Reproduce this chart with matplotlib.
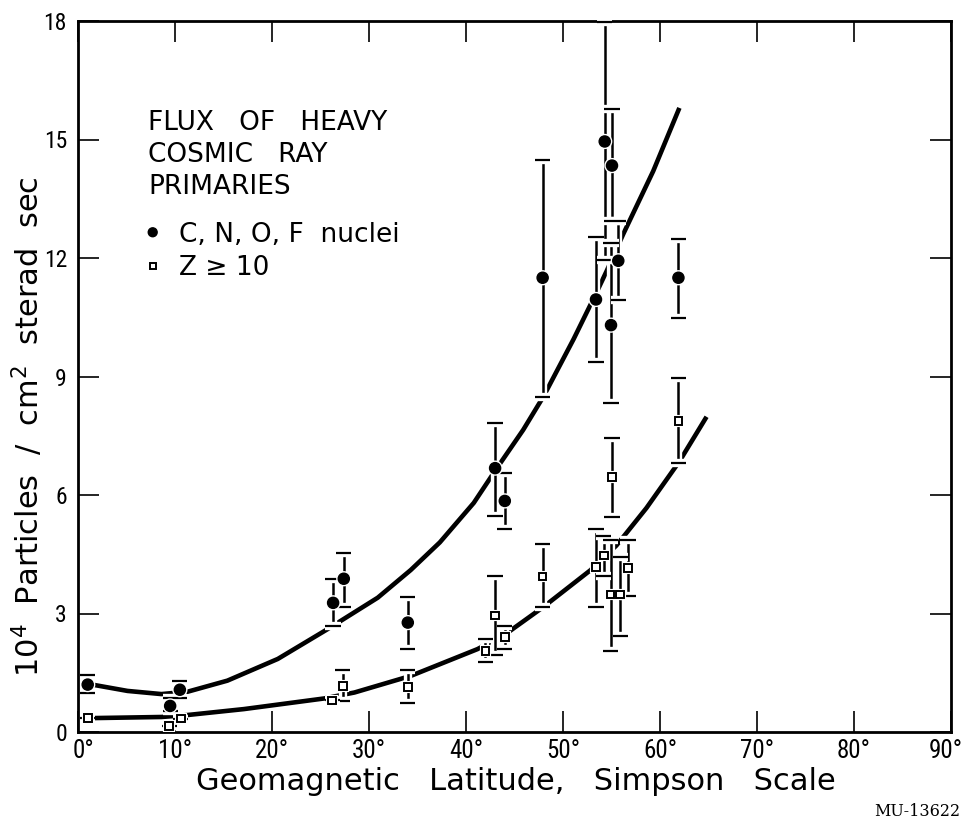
import matplotlib
matplotlib.use("Agg")
import matplotlib.pyplot as plt
import matplotlib.patheffects as pe
import matplotlib.transforms as mtransforms
import numpy as np

# C, N, O, F nuclei (filled circles)
lat_cno = [1.0, 9.5, 10.5, 26.3, 27.4, 34.0, 43.0, 44.0, 47.9, 53.4, 54.3, 54.95, 55.05, 55.7, 61.9]
flux_cno = [1.2, 0.66, 1.07, 3.27, 3.88, 2.77, 6.68, 5.85, 11.5, 10.95, 14.95, 10.3, 14.34, 11.93, 11.5]
hi_cno = [1.45, 0.86, 1.29, 3.88, 4.54, 3.43, 7.83, 6.56, 14.47, 12.54, 17.97, 12.38, 15.76, 12.93, 12.49]
lo_cno = [0.99, 0.52, 0.86, 2.69, 3.17, 2.11, 5.46, 5.15, 8.48, 9.37, 11.95, 8.32, 12.93, 10.94, 10.48]

# Z >= 10 (open squares)
lat_z10 = [1.0, 9.4, 10.6, 26.2, 27.3, 34.0, 42.0, 43.0, 44.0, 47.9, 53.4, 54.2, 54.9, 55.05, 55.9, 56.7, 61.9]
flux_z10 = [0.36, 0.15, 0.34, 0.8, 1.17, 1.14, 2.05, 2.95, 2.41, 3.94, 4.17, 4.47, 3.48, 6.45, 3.48, 4.15, 7.87]
hi_z10 = [0.36, 0.15, 0.34, 0.8, 1.57, 1.57, 2.35, 3.96, 2.69, 4.77, 5.15, 4.95, 4.85, 7.44, 4.44, 4.85, 8.96]
lo_z10 = [0.36, 0.15, 0.34, 0.8, 0.79, 0.74, 1.76, 1.95, 2.11, 3.16, 3.16, 3.96, 2.06, 5.44, 2.44, 3.45, 6.80]

# hand-drawn fit curves
fit_cno_lat = [1.0, 5.1, 8.6, 11.3, 15.4, 20.6, 25.7, 30.9, 34.3, 37.3, 40.8, 43.1, 45.9, 48.0,
               51.1, 53.5, 54.5, 56.2, 59.3, 62.0]
fit_cno_flux = [1.22, 1.04, 0.96, 1.02, 1.3, 1.85, 2.6, 3.4, 4.1, 4.8, 5.8, 6.65, 7.65, 8.5,
                9.95, 11.15, 11.67, 12.6, 14.2, 15.8]
fit_z10_lat = [1.0, 8.6, 11.3, 17.1, 25.4, 28.5, 34.3, 41.2, 44.2, 48.0, 52.8, 55.5, 58.6, 62.0, 64.8]
fit_z10_flux = [0.35, 0.38, 0.43, 0.58, 0.85, 1.0, 1.42, 2.1, 2.5, 3.17, 4.09, 4.72, 5.67, 6.85, 7.98]

x_ticks = [0, 10, 20, 30, 40, 50, 60, 70, 80, 90]
y_ticks = [0, 3, 6, 9, 12, 15, 18]

narrow = ["Roboto Condensed", "Liberation Sans Narrow", "DejaVu Sans"]
halo = [pe.Stroke(linewidth=6, foreground="white"), pe.Normal()]

fig = plt.figure(figsize=(9.66, 8.26), dpi=100)
ax = fig.add_axes([78 / 966, 1 - 732 / 826, 873 / 966, 711 / 826])

ax.plot(fit_cno_lat, fit_cno_flux, color="black", lw=3.3, solid_capstyle="butt", zorder=1)
ax.plot(fit_z10_lat, fit_z10_flux, color="black", lw=3.3, solid_capstyle="butt", zorder=1)

def bars(lat, flux, lo, hi):
    flux = np.array(flux)
    err = [flux - np.array(lo), np.array(hi) - flux]
    eb = ax.errorbar(lat, flux, yerr=err, fmt="none", ecolor="black",
                     elinewidth=1.8, capsize=5.5, capthick=1.6, zorder=3)
    for art in list(eb[1]) + list(eb[2]):
        art.set_path_effects(halo)
        art.set_clip_on(False)

bars(lat_cno, flux_cno, lo_cno, hi_cno)
bars(lat_z10, flux_z10, lo_z10, hi_z10)

h1, = ax.plot(lat_cno, flux_cno, ls="none", marker="o", ms=8, color="black",
              label="C, N, O, F  nuclei", zorder=4)
h2, = ax.plot(lat_z10, flux_z10, ls="none", marker="s", ms=5.5, mfc="white",
              mec="black", mew=1.4, label="Z ≥ 10", zorder=4)
h1.set_path_effects([pe.Stroke(linewidth=3, foreground="white"), pe.Normal()])
h2.set_path_effects([pe.Stroke(linewidth=3, foreground="white"), pe.Normal()])

ax.set_xlim(0, 90)
ax.set_ylim(0, 18)
ax.set_xticks(x_ticks)
ax.set_xticklabels([f"{t}°" for t in x_ticks], family=narrow, fontsize=18)
ax.set_yticks(y_ticks)
ax.set_yticklabels([str(t) for t in y_ticks], family=narrow, fontsize=17)
ax.tick_params(direction="in", length=15, width=1.2, top=True, right=True, color="black")
ax.tick_params(axis="x", pad=5)
ax.tick_params(axis="y", pad=8)
for sp in ax.spines.values():
    sp.set_linewidth(2.0)

# first label sits a bit right of the axis, last one a bit left of the edge
xlbls = ax.get_xticklabels()
xlbls[0].set_transform(xlbls[0].get_transform()
                       + mtransforms.ScaledTranslation(5 / 100, 0, fig.dpi_scale_trans))
xlbls[-1].set_transform(xlbls[-1].get_transform()
                        + mtransforms.ScaledTranslation(-5 / 100, 0, fig.dpi_scale_trans))

fig.text(148 / 966, 1 - 110 / 826, "FLUX   OF   HEAVY\nCOSMIC   RAY\nPRIMARIES",
         ha="left", va="top", fontsize=19, linespacing=1.3)
leg = ax.legend(handles=[h1, h2], loc="upper left", bbox_to_anchor=(0.0765, 0.718),
                frameon=False, fontsize=19, borderpad=0, borderaxespad=0,
                handlelength=0.6, handletextpad=0.7, labelspacing=0.28, markerscale=0.8)

fig.text(28 / 966, 1 - 427 / 826, "10$^4$  Particles  /  cm$^2$  sterad  sec",
         rotation=90, ha="center", va="center", fontsize=22)
fig.text(516 / 966, 1 - 781 / 826, "Geomagnetic   Latitude,   Simpson   Scale",
         ha="center", va="center", fontsize=22)
fig.text(917 / 966, 1 - 811 / 826, "MU-13622", ha="center", va="center",
         fontsize=11.5, family=["DejaVu Serif"])

fig.savefig("out.png", dpi=100)
